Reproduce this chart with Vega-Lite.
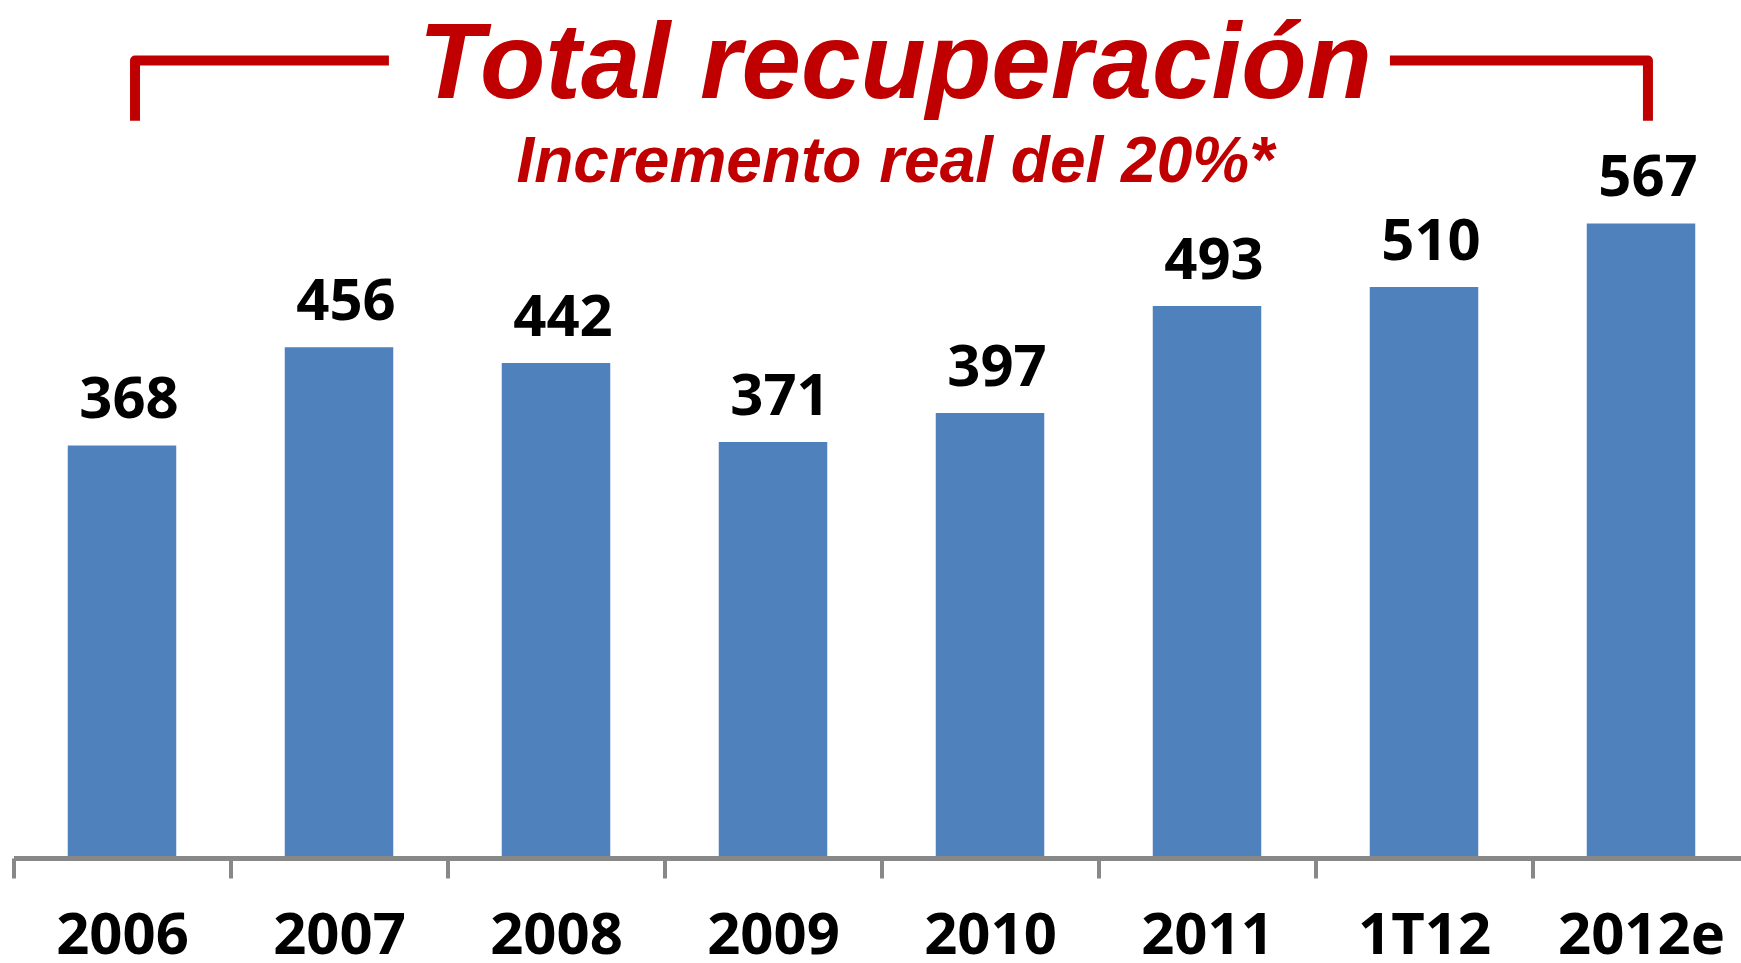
{
  "$schema": "https://vega.github.io/schema/vega-lite/v6.json",
  "width": 1727.5,
  "height": 656,
  "autosize": {"type": "none"},
  "padding": {"left": 13.5, "top": 200, "right": 0, "bottom": 107},
  "background": "white",
  "config": {"view": {"stroke": null}},
  "title": {
    "text": "Total recuperación",
    "subtitle": "Incremento real del 20%*",
    "anchor": "middle",
    "dx": 18,
    "font": "Liberation Sans",
    "fontSize": 107,
    "fontStyle": "italic",
    "fontWeight": "bold",
    "color": "#C00000",
    "subtitleFont": "Liberation Sans",
    "subtitleFontSize": 64,
    "subtitleFontStyle": "italic",
    "subtitleFontWeight": "bold",
    "subtitleColor": "#C00000",
    "subtitlePadding": 11,
    "offset": -140
  },
  "datasets": {
    "bars": [
      {"periodo": "2006", "valor": 368},
      {"periodo": "2007", "valor": 456},
      {"periodo": "2008", "valor": 442},
      {"periodo": "2009", "valor": 371},
      {"periodo": "2010", "valor": 397},
      {"periodo": "2011", "valor": 493},
      {"periodo": "1T12", "valor": 510},
      {"periodo": "2012e", "valor": 567}
    ],
    "bracket": [
      {"lado": "izq", "orden": 1, "bx": 0.56, "by": 659},
      {"lado": "izq", "orden": 2, "bx": 0.56, "by": 713},
      {"lado": "izq", "orden": 3, "bx": 1.73, "by": 713},
      {"lado": "der", "orden": 1, "bx": 6.343, "by": 713},
      {"lado": "der", "orden": 2, "bx": 7.532, "by": 713},
      {"lado": "der", "orden": 3, "bx": 7.532, "by": 659}
    ]
  },
  "layer": [
    {
      "data": {"name": "bars"},
      "encoding": {
        "x": {
          "field": "periodo",
          "type": "nominal",
          "sort": null,
          "scale": {"paddingInner": 0.5, "paddingOuter": 0.25, "range": [0, 1736]},
          "axis": {
            "title": null,
            "offset": 2,
            "domainColor": "#888888",
            "domainWidth": 5,
            "tickColor": "#888888",
            "tickWidth": 4,
            "tickSize": 20,
            "tickOffset": -108.5,
            "labelOffset": 108.5,
            "labelFont": "Open Sans",
            "labelFontSize": 58,
            "labelFontWeight": "bold",
            "labelColor": "black",
            "labelPadding": 75,
            "labelBaseline": "alphabetic",
            "labelAngle": 0,
            "grid": false
          }
        },
        "y": {
          "field": "valor",
          "type": "quantitative",
          "scale": {"domain": [0, 588], "nice": false},
          "axis": null
        }
      },
      "layer": [
        {"mark": {"type": "bar", "color": "#4F81BD"}},
        {
          "mark": {
            "type": "text",
            "font": "Open Sans",
            "fontSize": 58,
            "fontWeight": "bold",
            "color": "black",
            "baseline": "alphabetic",
            "dy": -27,
            "dx": 7
          },
          "encoding": {"text": {"field": "valor", "type": "quantitative"}}
        }
      ]
    },
    {
      "data": {"name": "bracket"},
      "mark": {"type": "line", "color": "#C00000", "strokeWidth": 10, "strokeJoin": "round", "strokeCap": "butt"},
      "encoding": {
        "x": {"field": "bx", "type": "quantitative", "scale": {"domain": [0, 8], "nice": false, "zero": false, "range": [0, 1736]}, "axis": null},
        "y": {"field": "by", "type": "quantitative"},
        "detail": {"field": "lado"},
        "order": {"field": "orden"}
      }
    }
  ],
  "resolve": {"scale": {"x": "independent"}}
}
